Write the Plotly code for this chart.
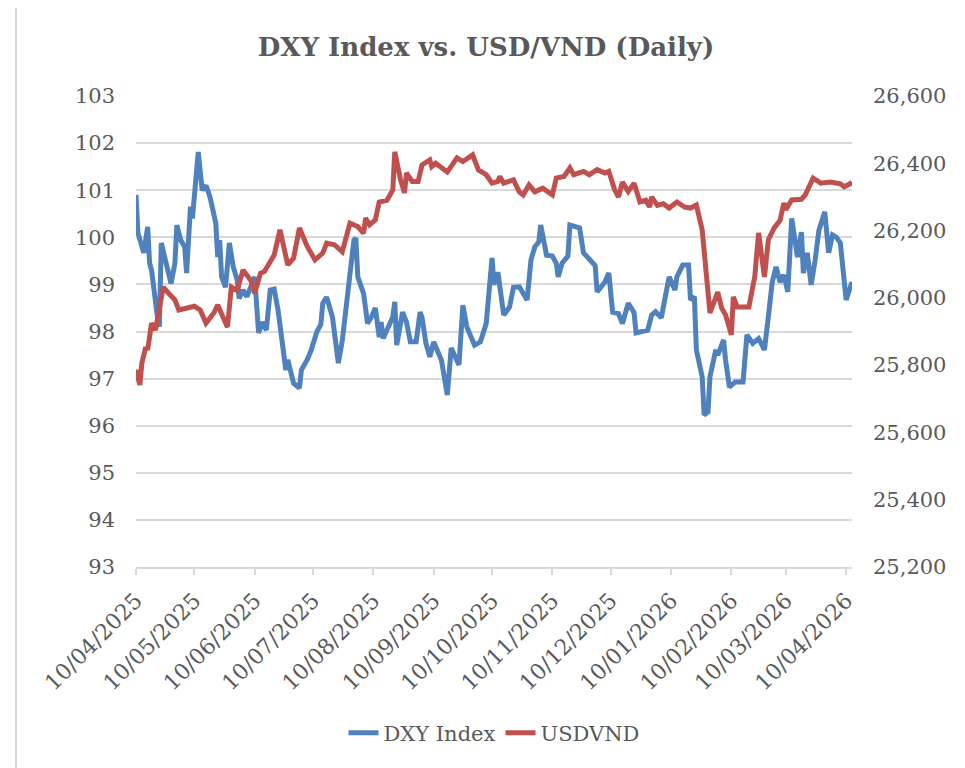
import pandas as pd
import plotly.graph_objects as go

START = "2025-04-10"

DXY_DAY = [0, 1, 4, 6, 7, 8, 11, 12, 13, 15, 18, 20, 21, 23, 25, 26, 28, 29, 32, 34, 36, 38, 41, 42, 43, 44, 46, 48, 50, 52, 53, 55, 57, 61, 63, 65, 67, 69, 71, 73, 77, 78, 81, 84, 85, 88, 90, 93, 95, 96, 98, 101, 104, 106, 109, 112, 113, 114, 117, 119, 121, 123, 125, 126, 127, 130, 132, 133, 134, 137, 139, 141, 144, 146, 147, 149, 151, 153, 155, 157, 160, 162, 166, 168, 170, 174, 177, 180, 183, 184, 186, 189, 192, 194, 197, 201, 203, 205, 207, 208, 211, 214, 216, 217, 219, 222, 223, 228, 230, 234, 236, 237, 241, 243, 245, 248, 250, 253, 256, 257, 263, 265, 267, 270, 272, 274, 277, 278, 281, 284, 285, 287, 288, 291, 292, 294, 295, 298, 299, 302, 303, 305, 308, 312, 314, 317, 320, 323, 325, 327, 329, 331, 333, 335, 337, 340, 342, 343, 345, 347, 349, 351, 354, 356, 358, 360, 362, 365, 368]
DXY_VAL = [100.9, 100.09, 99.67, 100.22, 99.45, 99.3, 98.31, 98.1, 99.88, 99.52, 99.02, 99.45, 100.26, 99.94, 99.8, 99.24, 100.65, 100.4, 101.81, 101.0, 101.1, 100.86, 100.3, 99.58, 99.94, 99.16, 98.94, 99.88, 99.37, 99.1, 98.7, 98.88, 98.74, 99.16, 97.97, 98.2, 98.03, 98.88, 98.9, 98.46, 97.18, 97.4, 96.9, 96.8, 97.18, 97.4, 97.6, 98.0, 98.15, 98.6, 98.73, 98.3, 97.33, 97.8, 98.88, 99.94, 99.98, 99.16, 98.8, 98.17, 98.31, 98.5, 97.88, 98.2, 97.85, 98.1, 98.31, 98.63, 97.71, 98.41, 98.2, 97.78, 97.78, 98.41, 98.3, 97.75, 97.46, 97.78, 97.55, 97.39, 96.65, 97.65, 97.29, 98.56, 98.1, 97.71, 97.78, 98.17, 99.56, 98.99, 99.26, 98.35, 98.52, 98.94, 98.95, 98.67, 99.52, 99.8, 99.9, 100.26, 99.62, 99.6, 99.45, 99.16, 99.45, 99.6, 100.26, 100.2, 99.67, 99.48, 99.4, 98.84, 99.05, 99.24, 98.41, 98.38, 98.17, 98.6, 98.4, 97.97, 98.03, 98.35, 98.42, 98.29, 98.71, 99.16, 98.88, 99.16, 99.41, 99.41, 98.67, 98.74, 97.61, 97.04, 96.23, 96.29, 97.04, 97.61, 97.5, 97.82, 97.4, 96.82, 96.93, 96.93, 97.93, 97.75, 97.85, 97.61, 98.31, 99.05, 99.37, 99.05, 99.2, 98.84, 100.4, 99.58, 100.11, 99.24, 99.67, 98.99, 99.5, 100.15, 100.54, 99.67, 100.05, 100.0, 99.88, 98.67, 99.05]

VND_DAY = [0, 2, 3, 5, 6, 8, 10, 12, 14, 17, 20, 22, 26, 30, 33, 36, 40, 42, 47, 49, 52, 55, 59, 61, 64, 66, 71, 74, 76, 78, 81, 84, 88, 92, 96, 98, 102, 106, 110, 114, 117, 118, 120, 123, 125, 129, 132, 133, 136, 138, 139, 142, 145, 147, 151, 152, 154, 160, 165, 168, 173, 176, 180, 183, 186, 187, 189, 194, 197, 199, 202, 205, 209, 214, 216, 220, 223, 225, 230, 233, 237, 241, 243, 246, 248, 250, 253, 256, 259, 262, 264, 265, 268, 271, 274, 278, 282, 285, 288, 291, 295, 299, 301, 303, 306, 307, 309, 315, 318, 320, 323, 325, 328, 331, 333, 334, 337, 342, 344, 348, 352, 357, 362, 364, 367, 368]
VND_VAL = [25786, 25741, 25806, 25854, 25845, 25925, 25904, 25964, 26032, 26012, 25994, 25964, 25970, 25975, 25964, 25925, 25955, 25979, 25913, 26032, 26022, 26083, 26052, 26014, 26073, 26078, 26127, 26202, 26150, 26098, 26118, 26208, 26153, 26113, 26133, 26163, 26158, 26137, 26222, 26212, 26192, 26237, 26217, 26232, 26285, 26290, 26321, 26434, 26350, 26312, 26371, 26346, 26346, 26395, 26410, 26390, 26400, 26374, 26416, 26405, 26425, 26380, 26366, 26341, 26346, 26361, 26341, 26351, 26315, 26306, 26336, 26315, 26326, 26306, 26356, 26361, 26386, 26366, 26376, 26366, 26381, 26371, 26376, 26321, 26300, 26344, 26316, 26341, 26285, 26290, 26270, 26300, 26275, 26280, 26267, 26285, 26270, 26267, 26276, 26202, 25955, 26017, 25970, 25950, 25890, 26003, 25973, 25973, 26062, 26193, 26062, 26172, 26208, 26230, 26282, 26262, 26291, 26293, 26306, 26356, 26341, 26344, 26339, 26330, 26339, 26344]

TICK_DATES = ["2025-04-10", "2025-05-10", "2025-06-10", "2025-07-10", "2025-08-10", "2025-09-10",
              "2025-10-10", "2025-11-10", "2025-12-10", "2026-01-10", "2026-02-10", "2026-03-10", "2026-04-10"]

TITLE = "DXY Index vs. USD/VND (Daily)"
FONT = "DejaVu Serif, Liberation Serif, serif"
TXT = "#595959"
GRID = "#D9D9D9"

start = pd.Timestamp(START)
dxy_dates = [start + pd.Timedelta(days=d) for d in DXY_DAY]
vnd_dates = [start + pd.Timedelta(days=d) for d in VND_DAY]

fig = go.Figure()
fig.add_trace(go.Scatter(x=dxy_dates, y=DXY_VAL, name="DXY Index", mode="lines",
                         line=dict(color="#4F81BD", width=5), yaxis="y"))
fig.add_trace(go.Scatter(x=vnd_dates, y=VND_VAL, name="USDVND", mode="lines",
                         line=dict(color="#C0504D", width=5), yaxis="y2"))

# page offset of the figure (body margin) is 8 px
OFF = 8
W, H = 965 - OFF, 768 - OFF


# paper-coordinate helpers for the chart frame (plot area 136..852 x 96..567 px on screen)
def px(x):
    return (x - 136) / 716.0


def py(y):
    return (567 - y) / 471.0


fig.update_layout(
    width=W, height=H, autosize=False,
    margin=dict(l=136 - OFF, r=W - (852 - OFF), t=96 - OFF, b=H - (567 - OFF), autoexpand=False),
    paper_bgcolor="white", plot_bgcolor="white",
    font=dict(family=FONT, size=21, color=TXT),
    title=dict(text="<b>" + TITLE + "</b>", font=dict(family=FONT, size=26, color=TXT),
               xref="container", x=(486 - OFF) / W, xanchor="center",
               yref="container", y=1 - (47 - OFF) / H, yanchor="middle"),
    showlegend=True,
    legend=dict(orientation="h", x=0.5, xanchor="center", y=py(733), yanchor="middle",
                font=dict(family=FONT, size=21, color=TXT), bgcolor="rgba(0,0,0,0)"),
    xaxis=dict(type="date", range=[dxy_dates[0], dxy_dates[-1]],
               tickvals=[pd.Timestamp(t) for t in TICK_DATES], tickformat="%d/%m/%Y",
               tickangle=-45, showgrid=False, zeroline=False,
               showline=True, linecolor=GRID, linewidth=2,
               ticks="outside", ticklen=6, tickwidth=2, tickcolor=GRID,
               ticklabelstandoff=4,
               tickfont=dict(family=FONT, size=22, color=TXT)),
    yaxis=dict(range=[93, 103], dtick=1, tick0=93, showgrid=True, gridcolor=GRID, gridwidth=2,
               zeroline=False, showline=False, ticks="", ticklabelstandoff=20,
               tickfont=dict(family=FONT, size=21, color=TXT)),
    yaxis2=dict(range=[25200, 26600], dtick=200, tick0=25200, overlaying="y", side="right",
                showgrid=False, zeroline=False, showline=False, ticks="", tickformat=",",
                ticklabelstandoff=20, tickfont=dict(family=FONT, size=21, color=TXT)),
    shapes=[
        dict(type="rect", xref="paper", yref="paper", x0=px(16), x1=px(962), y0=py(780), y1=py(3),
             line=dict(color=GRID, width=2), fillcolor="rgba(0,0,0,0)", layer="below"),
    ],
)

fig.write_html("out.html")
